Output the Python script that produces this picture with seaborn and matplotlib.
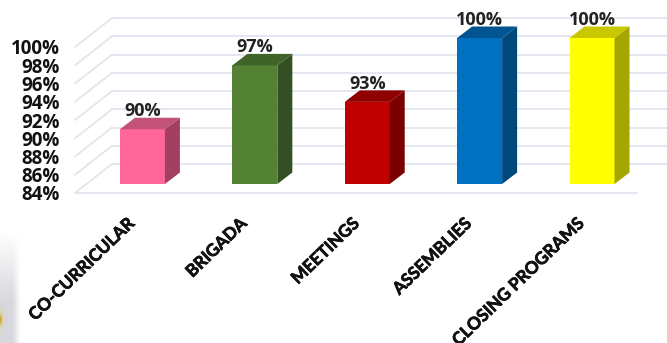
import numpy as np
import matplotlib
matplotlib.use("Agg")
import matplotlib.pyplot as plt
import matplotlib.patheffects as pe
from matplotlib.patches import Polygon
from matplotlib.transforms import ScaledTranslation, IdentityTransform
import seaborn as sns

categories = ["CO-CURRICULAR", "BRIGADA", "MEETINGS", "ASSEMBLIES", "CLOSING PROGRAMS"]
values = [90, 97, 93, 100, 100]
value_labels = ["90%", "97%", "93%", "100%", "100%"]
front_colors = ["#FF6699", "#548235", "#C00000", "#0070C0", "#FFFF00"]
top_colors = ["#C25277", "#3F6328", "#900000", "#005490", "#C8C800"]
side_colors = ["#A33F63", "#345022", "#7C0000", "#00477C", "#A5A500"]
y_ticks = [84, 86, 88, 90, 92, 94, 96, 98, 100]

W, H, DPI = 667, 343, 100
sns.set_theme(style="white")
plt.rcParams["font.family"] = ["Open Sans", "DejaVu Sans"]

fig = plt.figure(figsize=(W / DPI, H / DPI), dpi=DPI, facecolor="white")

# faint remnant of the photo behind the chart, lower left corner
hh, ww = 110, 20
yy, xx = np.mgrid[0:hh, 0:ww]
alpha = np.clip((hh - yy) / 70, 0, 1) * np.clip((ww - xx) / 8, 0, 1) * 0.55
img = np.zeros((hh, ww, 4))
img[..., :3] = (0.72, 0.72, 0.76)
gold = np.exp(-(((xx - 0) / 3.0) ** 2 + ((yy - 23) / 9.0) ** 2))
img[..., 0] = img[..., 0] * (1 - gold) + 0.80 * gold
img[..., 1] = img[..., 1] * (1 - gold) + 0.68 * gold
img[..., 2] = img[..., 2] * (1 - gold) + 0.20 * gold
img[..., 3] = np.maximum(alpha, gold)
fig.figimage(img, xo=0, yo=0, origin="lower", zorder=0)

# axes is the front plane of the 3-D box, in pixels
L, R, B, T = 75, 637, 193, 47
ax = fig.add_axes([L / W, 1 - B / H, (R - L) / W, (B - T) / H])
ax.patch.set_alpha(0)
sns.barplot(x=categories, y=values, hue=categories, palette=front_colors,
            width=0.4, legend=False, ax=ax, saturation=1, zorder=4, linewidth=0, edgecolor="none")
ax.set_ylim(84, 100)
ax.set_xlim(-0.6, 4.4)
for s in ax.spines.values():
    s.set_visible(False)
ax.set_yticks(y_ticks)
ax.set_yticklabels([f"{t}%" for t in y_ticks], fontsize=13.5, fontweight="bold", color="#111111")
ax.tick_params(axis="y", length=0, pad=11)
ax.tick_params(axis="x", length=0, pad=16)
ax.set_xticks(range(len(categories)))
ax.set_xticklabels(categories, rotation=44, ha="right", va="top", rotation_mode="anchor",
                   fontsize=12.4, fontweight="bold", color="#111111", family=["Lato", "DejaVu Sans"])


def shift(dx, dy):
    return ScaledTranslation(dx / DPI, dy / DPI, fig.dpi_scale_trans)


for lab in ax.get_xticklabels():
    lab.set_transform(lab.get_transform() + shift(-16, 0))
    lab.set_path_effects([pe.withStroke(linewidth=0.5, foreground="#111111")])

grid_c = "#E1E5EE"
wall_dx, wall_dy = 37, 29
xmin, xmax = ax.get_xlim()
for t in y_ticks:
    p0 = ax.transData.transform((xmin, t))
    fig.add_artist(plt.Line2D([p0[0], p0[0] + wall_dx], [p0[1], p0[1] + wall_dy],
                              transform=IdentityTransform(), color=grid_c, lw=1.3, zorder=1))
    ax.plot([xmin, xmax], [t, t], color=grid_c, lw=1.3, zorder=1, clip_on=False,
            transform=ax.transData + shift(wall_dx, wall_dy))
# floor front edge
ax.plot([xmin, xmax], [84, 84], color=grid_c, lw=1.3, zorder=1, clip_on=False)

bar_shift = shift(0, 9)
depth = (15, 11.5)
bars = list(ax.patches)
for bar, v, lab, ct, cs in zip(bars, values, value_labels, top_colors, side_colors):
    x0 = bar.get_x()
    x1 = x0 + bar.get_width()
    base_tr = ax.transData + bar_shift
    a = base_tr.transform([(x0, 84), (x1, 84), (x1, v), (x0, v)])
    bar.set_xy((x0, 84))
    bar.set_height(v - 84)
    bar.set_transform(base_tr)
    bar.set_clip_on(False)
    dx, dy = depth
    side = Polygon([a[1], a[2], a[2] + [dx, dy], a[1] + [dx, dy]], closed=True,
                   facecolor=cs, edgecolor="none", transform=IdentityTransform(), zorder=3)
    top = Polygon([a[3], a[2], a[2] + [dx, dy], a[3] + [dx, dy]], closed=True,
                  facecolor=ct, edgecolor="none", transform=IdentityTransform(), zorder=3)
    fig.add_artist(side)
    fig.add_artist(top)
    ax.annotate(lab, xy=((x0 + x1) / 2, v), xycoords=base_tr, xytext=(0, 9), textcoords="offset pixels",
                ha="center", va="bottom", fontsize=13, fontweight="bold", color="#222222",
                annotation_clip=False, zorder=6)

fig.savefig("out.png", dpi=DPI, facecolor="white")
